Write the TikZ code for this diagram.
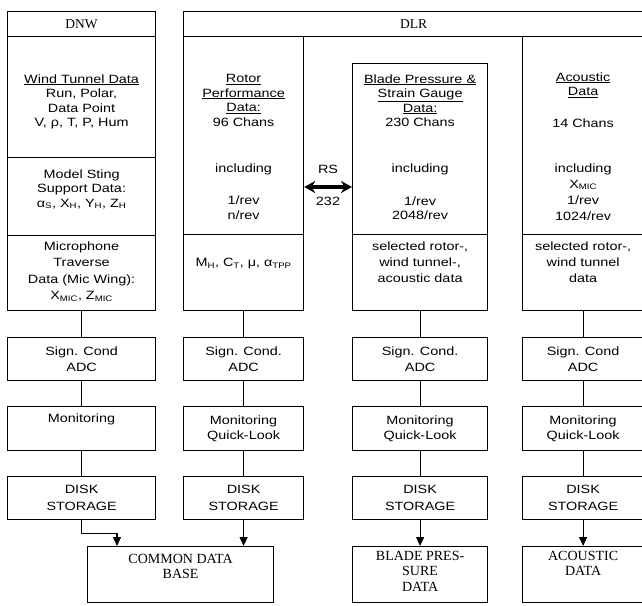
\documentclass[tikz,border=0pt]{standalone}
\usepackage{fontspec}
\setmainfont{Liberation Sans}[FakeStretch=1.2]
\newfontfamily\labelserif{Liberation Serif}
\usetikzlibrary{arrows.meta, positioning}
\newcommand{\lowsub}[1]{\textsubscript{#1}}
\tikzset{
  cellbox/.style={
    draw, line width=1.2pt, inner sep=0pt,
    anchor=north west, align=center,
    font=\fontsize{12}{16}\selectfont
  },
  headbox/.style={cellbox, font=\labelserif\fontsize{13.5}{14}\selectfont},
  dnwcol/.style={minimum width=148pt},
  rotorcol/.style={minimum width=120pt},
  bladecol/.style={minimum width=135pt},
  acoucol/.style={minimum width=121pt},
  textblock/.style={inner sep=0pt, align=center, font=\fontsize{12}{14.5}\selectfont},
  serifblock/.style={inner sep=0pt, align=center, font=\labelserif\fontsize{14}{15.5}\selectfont},
  link/.style={line width=1.2pt},
  feed/.style={line width=1.2pt, -{Triangle[length=9pt,width=8pt]}},
  rsarrow/.style={line width=3.5pt,
    {Stealth[length=11pt,width=12pt]}-{Stealth[length=11pt,width=12pt]}}
}

\begin{document}
\begin{tikzpicture}[x=1pt, y=-1pt]
  \useasboundingbox (0,0) rectangle (642,605);

  % DNW column
  \node[headbox, dnwcol, minimum height=25pt] (dnw) at (7,11) {DNW};
  \node[cellbox, dnwcol, minimum height=121pt] (wtd)   at (7,36)  {};
  \node[cellbox, dnwcol, minimum height=78pt]  (sting) at (7,157) {};
  \node[cellbox, dnwcol, minimum height=75pt]  (mic)   at (7,235) {};
  \node[textblock, below=38.2pt of wtd.north] (wtdtxt)
        {\underline{Wind Tunnel Data}\\Run, Polar,\\Data Point\\V, ρ, T, P, Hum};
  \node[textblock, below=12.2pt of sting.north] (stingtxt)
        {Model Sting\\Support Data:\\α\lowsub{S}, X\lowsub{H}, Y\lowsub{H}, Z\lowsub{H}};
  \node[textblock, font=\fontsize{12}{16.5}\selectfont, below=6.2pt of mic.north] (mictxt)
        {Microphone\\Traverse\\Data (Mic Wing):\\X\lowsub{MIC}, Z\lowsub{MIC}};

  \node[cellbox, dnwcol, minimum height=43pt] (dnwsc)   at (7,337) {Sign. Cond\\ADC};
  \node[cellbox, dnwcol, minimum height=44pt] (dnwmon)  at (7,406) {};
  \node[textblock, below=7.4pt of dnwmon.north] (dnwmontxt) {Monitoring};
  \node[cellbox, dnwcol, minimum height=43pt, font=\fontsize{12}{17}\selectfont] (dnwdisk) at (7,476) {DISK\\STORAGE};

  % DLR header
  \node[headbox, minimum width=460pt, minimum height=25pt] (dlr) at (183,11) {DLR};

  % rotor performance column
  \node[cellbox, rotorcol, minimum height=198pt] (rotor)    at (183,36)  {};
  \node[cellbox, rotorcol, minimum height=76pt]  (rotorsel) at (183,234) {};
  \node[textblock, below=38.2pt of rotor.north] (rotortxt)
        {\underline{Rotor}\\\underline{Performance}\\\underline{Data:}\\96 Chans\\[31.5pt]including\\[18pt]1/rev\\n/rev};
  \node[textblock, below=24.4pt of rotorsel.north] (rotorseltxt)
        {M\lowsub{H}, C\lowsub{T}, μ, α\lowsub{TPP}};
  \node[cellbox, rotorcol, minimum height=43pt] (rotorsc)   at (183,337) {Sign. Cond.\\ADC};
  \node[cellbox, rotorcol, minimum height=44pt, font=\fontsize{12}{15}\selectfont] (rotormon) at (183,406) {Monitoring\\Quick-Look};
  \node[cellbox, rotorcol, minimum height=43pt, font=\fontsize{12}{17}\selectfont] (rotordisk) at (183,476) {DISK\\STORAGE};

  % blade pressure column
  \node[cellbox, bladecol, minimum height=171pt] (blade)    at (352,63)  {};
  \node[cellbox, bladecol, minimum height=76pt]  (bladesel) at (352,234) {};
  \node[textblock, below=11.2pt of blade.north] (bladetxt)
        {\underline{Blade Pressure \&}\\\underline{Strain Gauge}\\\underline{Data:}\\230 Chans\\[31.5pt]including\\[18pt]1/rev\\2048/rev};
  \node[textblock, font=\fontsize{12}{16}\selectfont, below=7.2pt of bladesel.north] (bladeseltxt)
        {selected rotor-,\\wind tunnel-,\\acoustic data};
  \node[cellbox, bladecol, minimum height=43pt] (bladesc)   at (352,337) {Sign. Cond.\\ADC};
  \node[cellbox, bladecol, minimum height=44pt, font=\fontsize{12}{15}\selectfont] (blademon) at (352,406) {Monitoring\\Quick-Look};
  \node[cellbox, bladecol, minimum height=43pt, font=\fontsize{12}{17}\selectfont] (bladedisk) at (352,476) {DISK\\STORAGE};
  \node[cellbox, bladecol, minimum height=56pt] (bladeout) at (352,546) {};
  \node[serifblock, below=4.7pt of bladeout.north] (bladeouttxt) {BLADE PRES-\\SURE\\DATA};

  % acoustic column
  \node[cellbox, acoucol, minimum height=198pt] (acou)    at (522,36)  {};
  \node[cellbox, acoucol, minimum height=76pt]  (acousel) at (522,234) {};
  \node[textblock, below=36.2pt of acou.north] (acoutxt)
        {\underline{Acoustic}\\\underline{Data}\\[17pt]14 Chans\\[30.5pt]including\\[1.5pt]X\lowsub{MIC}\\[1.5pt]1/rev\\[1.5pt]1024/rev};
  \node[textblock, font=\fontsize{12}{16}\selectfont, below=7.2pt of acousel.north] (acouseltxt)
        {selected rotor-,\\wind tunnel\\data};
  \node[cellbox, acoucol, minimum height=43pt] (acousc)   at (522,337) {Sign. Cond\\ADC};
  \node[cellbox, acoucol, minimum height=44pt, font=\fontsize{12}{15}\selectfont] (acoumon) at (522,406) {Monitoring\\Quick-Look};
  \node[cellbox, acoucol, minimum height=43pt, font=\fontsize{12}{17}\selectfont] (acoudisk) at (522,476) {DISK\\STORAGE};
  \node[cellbox, acoucol, minimum height=56pt] (acouout) at (522,546) {};
  \node[serifblock, below=4.7pt of acouout.north] (acououttxt) {ACOUSTIC\\DATA};

  % common data base
  \node[cellbox, minimum width=186pt, minimum height=56pt] (cdb) at (87,546) {};
  \node[serifblock, below=7.7pt of cdb.north] (cdbtxt) {COMMON DATA\\BASE};
  \coordinate (cdbin) at (117,546);

  % RS 232 link
  \node[textblock] (rslabel) at (328,169)   {RS};
  \node[textblock] (rsnum)   at (328,201.7) {232};
  \coordinate (rsmid) at (328,187);
  \draw[rsarrow] (rotor.east |- rsmid) -- (blade.west |- rsmid);

  % connectors
  \draw[link] (mic)     -- (dnwsc);
  \draw[link] (dnwsc)   -- (dnwmon);
  \draw[link] (dnwmon)  -- (dnwdisk);
  \draw[feed] (dnwdisk.south) -- ++(0,13) -| (cdbin);

  \draw[link] (rotorsel) -- (rotorsc);
  \draw[link] (rotorsc)  -- (rotormon);
  \draw[link] (rotormon) -- (rotordisk);
  \draw[feed] (rotordisk.south) -- (rotordisk.south |- cdb.north);

  \draw[link] (bladesel) -- (bladesc);
  \draw[link] (bladesc)  -- (blademon);
  \draw[link] (blademon) -- (bladedisk);
  \draw[feed] (bladedisk) -- (bladeout);

  \draw[link] (acousel) -- (acousc);
  \draw[link] (acousc)  -- (acoumon);
  \draw[link] (acoumon) -- (acoudisk);
  \draw[feed] (acoudisk) -- (acouout);

\end{tikzpicture}
\end{document}
